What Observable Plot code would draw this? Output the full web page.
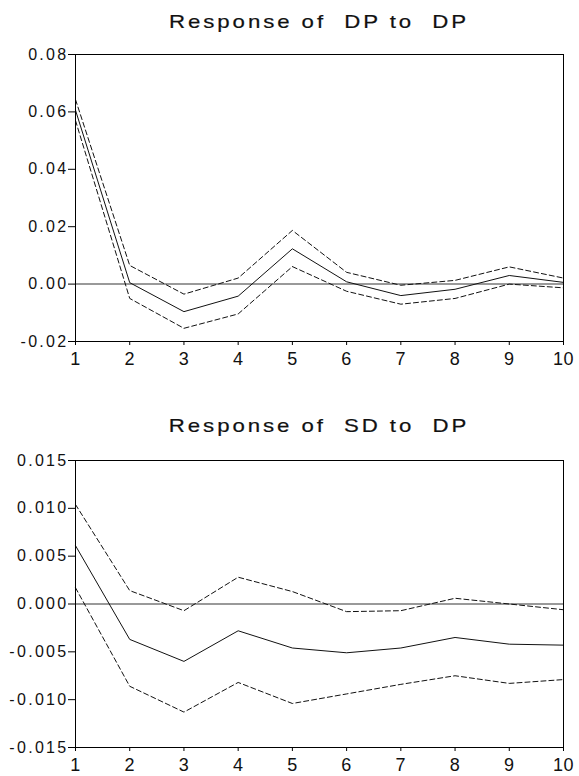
<!DOCTYPE html>
<html>
<head>
<meta charset="utf-8">
<script src="https://cdn.jsdelivr.net/npm/d3@7"></script>
<script src="https://cdn.jsdelivr.net/npm/@observablehq/plot@0.6"></script>
<style>
  body { margin: 0; background: #fff; }
  #wrap { position: relative; width: 579px; height: 776px; font-family: "Liberation Sans", Arial, sans-serif; }
  .title { position: absolute; left: 75px; width: 488px; text-align: center; font-size: 19px; line-height: 18px;
           letter-spacing: 2.5px; transform: scaleX(1.17); transform-origin: 50% 50%; color: #111; white-space: pre;
           -webkit-text-stroke: 0.2px #111; }
  .chart { position: absolute; left: 0; }
</style>
</head>
<body>
<div id="wrap">
  <div class="title" style="top:13px">Response of  DP to  DP</div>
  <div class="chart" id="c1" style="top:40px"></div>
  <div class="title" style="top:417px">Response of  SD to  DP</div>
  <div class="chart" id="c2" style="top:446px"></div>
</div>
<script>
const periods = [1, 2, 3, 4, 5, 6, 7, 8, 9, 10];

const dpResp  = [0.0606, 0.0005, -0.0096, -0.0042, 0.0123, 0.0008, -0.0040, -0.0018, 0.0030, 0.0006];
const dpUpper = [0.0643, 0.0065, -0.0035, 0.0021, 0.0187, 0.0041, -0.0004, 0.0013, 0.0060, 0.0021];
const dpLower = [0.0570, -0.0050, -0.0154, -0.0104, 0.0061, -0.0025, -0.0070, -0.0050, 0.0000, -0.0013];

const sdResp  = [0.0061, -0.0037, -0.0060, -0.0028, -0.0046, -0.0051, -0.0046, -0.0035, -0.0042, -0.0043];
const sdUpper = [0.0104, 0.0014, -0.0007, 0.0028, 0.0013, -0.0008, -0.0007, 0.0006, 0.0000, -0.0006];
const sdLower = [0.0017, -0.0086, -0.0113, -0.0082, -0.0104, -0.0094, -0.0084, -0.0075, -0.0083, -0.0079];

const dpTicks = [-0.02, 0.00, 0.02, 0.04, 0.06, 0.08];
const sdTicks = [-0.015, -0.010, -0.005, 0.000, 0.005, 0.010, 0.015];

function fmt(digits) {
  return d => (d < -1e-12 ? "-" : "") + Math.abs(d).toFixed(digits);
}

function table(vals) { return periods.map((p, i) => ({period: p, value: vals[i]})); }

function chart(resp, upper, lower, ticks, digits) {
  const svg = Plot.plot({
    width: 579,
    height: 331,
    marginLeft: 75,
    marginRight: 16,
    marginTop: 14,
    marginBottom: 30,
    style: {fontFamily: '"Liberation Sans", Arial, sans-serif', color: "#111", background: "white"},
    x: {domain: [1, 10]},
    y: {domain: [ticks[0], ticks[ticks.length - 1]]},
    marks: [
      Plot.ruleY([0], {stroke: "#777", strokeWidth: 1.5}),
      Plot.line(table(upper), {x: "period", y: "value", stroke: "#111", strokeWidth: 1, strokeDasharray: "5,3"}),
      Plot.line(table(lower), {x: "period", y: "value", stroke: "#111", strokeWidth: 1, strokeDasharray: "5,3"}),
      Plot.line(table(resp), {x: "period", y: "value", stroke: "#111", strokeWidth: 1}),
      Plot.frame({stroke: "#000"}),
      Plot.axisY({ticks: ticks, tickFormat: fmt(digits), tickSize: 7, tickPadding: 0, label: null, stroke: "#000", fontSize: 16}),
      Plot.axisX({ticks: periods, tickFormat: d => String(d), tickSize: 4, tickPadding: 7, label: null, stroke: "#000", fontSize: 18})
    ]
  });
  svg.querySelectorAll('[aria-label="y-axis tick label"]').forEach(g => { g.style.letterSpacing = "2.3px"; g.style.fontSize = "16px"; });
  svg.querySelectorAll('[aria-label="x-axis tick label"]').forEach(g => { g.style.letterSpacing = "0.5px"; g.style.fontSize = "18px"; });
  return svg;
}

document.getElementById("c1").appendChild(chart(dpResp, dpUpper, dpLower, dpTicks, 2));
document.getElementById("c2").appendChild(chart(sdResp, sdUpper, sdLower, sdTicks, 3));
</script>
</body>
</html>
